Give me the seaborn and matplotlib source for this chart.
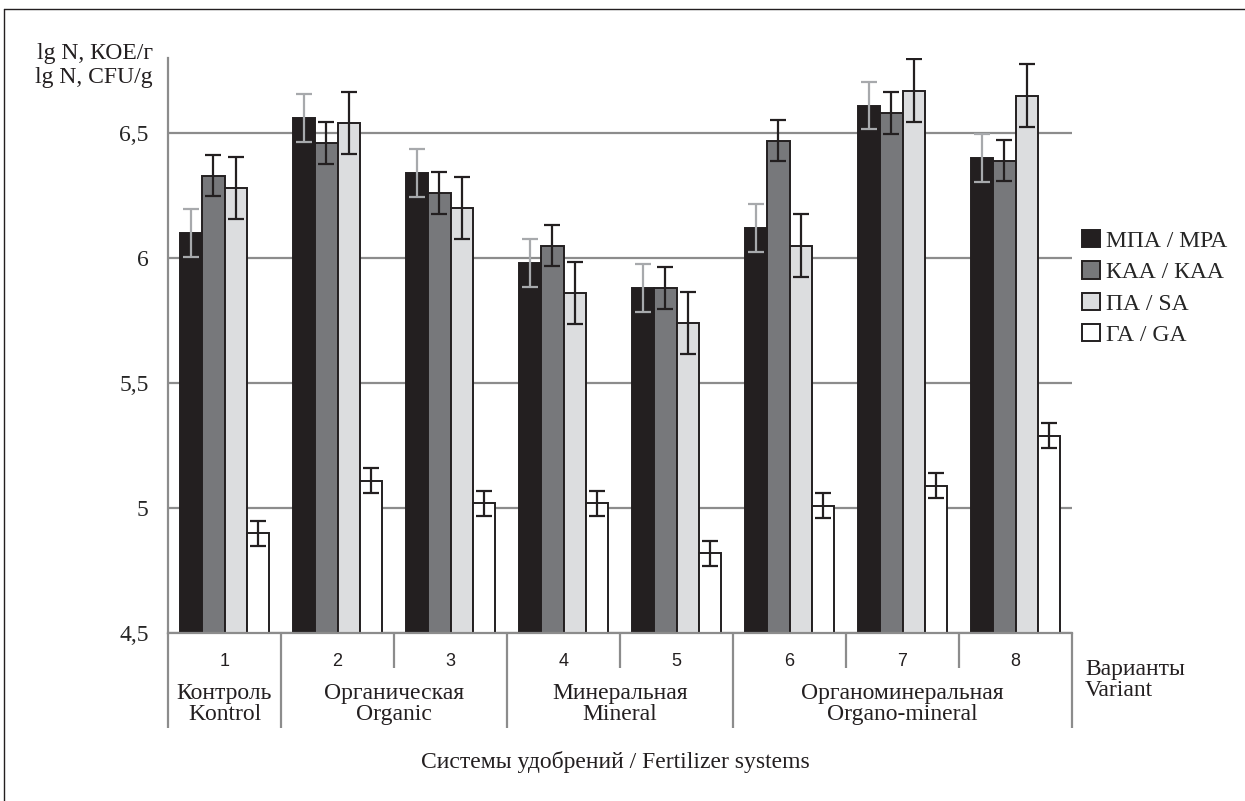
import numpy as np
import pandas as pd
import matplotlib
matplotlib.use("Agg")
import matplotlib.pyplot as plt
import matplotlib.transforms as mtransforms
from matplotlib.lines import Line2D
from matplotlib.container import BarContainer
import seaborn as sns

# ---------------- data ----------------
variants = ["1", "2", "3", "4", "5", "6", "7", "8"]
series = ["МПА / МРА", "КАА / КАА", "ПА / SA", "ГА / GA"]
mpa = [6.10, 6.56, 6.34, 5.98, 5.88, 6.12, 6.61, 6.40]
kaa = [6.33, 6.46, 6.26, 6.05, 5.88, 6.47, 6.58, 6.39]
pa = [6.28, 6.54, 6.20, 5.86, 5.74, 6.05, 6.67, 6.65]
ga = [4.90, 5.11, 5.02, 5.02, 4.82, 5.01, 5.09, 5.29]
err_mpa = [0.095] * 8
err_kaa = [0.083] * 8
err_pa = [0.125] * 8
err_ga = [0.05] * 8
systems = ["Контроль\nKontrol", "Органическая\nOrganic", "Минеральная\nMineral",
           "Органоминеральная\nOrgano-mineral"]
system_span = [(0, 0), (1, 2), (3, 4), (5, 7)]
yticks = [4.5, 5.0, 5.5, 6.0, 6.5]
ytick_labels = ["4,5", "5", "5,5", "6", "6,5"]

colors = ["#231f20", "#77787b", "#dcdddf", "#ffffff"]
err_colors = ["#a7a9ac", "#231f20", "#231f20", "#231f20"]
grid_c = "#8c8c8c"
SERIF = "Liberation Serif"
SANS = "Liberation Sans"
FS = 17

values = [mpa, kaa, pa, ga]
errors = [err_mpa, err_kaa, err_pa, err_ga]
df = pd.DataFrame({
    "variant": np.repeat([variants], 4, axis=0).ravel(),
    "series": np.repeat(series, len(variants)),
    "value": np.concatenate(values),
})

sns.set_style("white")
plt.rcParams["font.family"] = [SERIF, "DejaVu Serif"]

W, H = 1245, 801
fig = plt.figure(figsize=(W / 100, H / 100), dpi=100)
ax = fig.add_axes([168 / W, 1 - 633 / H, 904 / W, 575 / H])

sns.barplot(data=df, x="variant", y="value", hue="series", hue_order=series,
            order=variants, palette=colors, saturation=1, width=0.79,
            errorbar=None, edgecolor="#231f20", linewidth=1.4, ax=ax, legend=True)

bar_conts = [c for c in ax.containers if isinstance(c, BarContainer)]
for i, cont in enumerate(bar_conts):
    xs = [p.get_x() + p.get_width() / 2 for p in cont.patches]
    ax.errorbar(xs, values[i], yerr=errors[i], fmt="none", ecolor=err_colors[i],
                elinewidth=1.6, capsize=5.5, capthick=1.6, zorder=5)

ax.set_ylim(4.5, 6.8)
ax.set_xlim(-0.5, 7.5)
ax.set_yticks(yticks)
ax.set_yticklabels(ytick_labels, fontsize=FS, family=SERIF)
ax.yaxis.grid(True, color=grid_c, linewidth=1.6)
ax.set_axisbelow(True)
ax.tick_params(axis="y", length=6, width=1.4, color=grid_c, pad=8)
ax.tick_params(axis="x", length=0, labelbottom=False)
ax.set_xlabel("")
ax.set_ylabel("")
for s in ["top", "right"]:
    ax.spines[s].set_visible(False)
for s in ["left", "bottom"]:
    ax.spines[s].set_color(grid_c)
    ax.spines[s].set_linewidth(1.6)

# ---------------- category axis below ----------------
trans = mtransforms.blended_transform_factory(ax.transData, ax.transAxes)
axh = 575.0
sys_bounds = {-0.5} | {e + 0.5 for (_, e) in system_span}
for k in range(len(variants) + 1):
    b = k - 0.5
    yend = -(728 - 633) / axh if b in sys_bounds else -(668 - 633) / axh
    ax.plot([b, b], [0, yend], transform=trans, color=grid_c, lw=1.6,
            clip_on=False, solid_capstyle="butt")
for i, v in enumerate(variants):
    ax.text(i, -(662 - 633) / axh, v, transform=trans, ha="center", va="center",
            fontsize=13, family=SANS, color="#231f20")
for name, (s, e) in zip(systems, system_span):
    ax.text((s + e) / 2, -(704 - 633) / axh, name, transform=trans, ha="center",
            va="center", fontsize=FS, family=SERIF, color="#231f20", linespacing=1.0)
ax.text((1085 - 168) / 904, -(680 - 633) / axh, "Варианты\nVariant",
        transform=ax.transAxes, ha="left", va="center", fontsize=FS, family=SERIF,
        color="#231f20", linespacing=0.95)

fig.text(615 / W, 1 - 762 / H, "Системы удобрений / Fertilizer systems", ha="center",
         va="center", fontsize=FS, family=SERIF, color="#231f20")
fig.text(153 / W, 1 - 53 / H, "lg N, КОЕ/г", ha="right", va="center", fontsize=FS,
         family=SERIF, color="#231f20")
fig.text(153 / W, 1 - 77 / H, "lg N, CFU/g", ha="right", va="center", fontsize=FS,
         family=SERIF, color="#231f20")

# ---------------- legend ----------------
handles, labels = ax.get_legend_handles_labels()
if ax.get_legend() is not None:
    ax.get_legend().remove()
fig.legend(handles, labels, loc="upper left", bbox_to_anchor=(1082 / W, 1 - 230 / H),
           frameon=False, prop={"family": SERIF, "size": FS}, handlelength=0.75,
           handleheight=0.75, handletextpad=0.25, labelspacing=0.4, borderpad=0,
           borderaxespad=0)

# ---------------- outer frame (left and top edges) ----------------
fx0, fx1, fy0 = 4 / W, 1.0, 1 - 9 / H
for xs_, ys_ in [([fx0, fx0], [0, fy0]), ([fx0, fx1], [fy0, fy0])]:
    fig.add_artist(Line2D(xs_, ys_, transform=fig.transFigure, color="#231f20", lw=1.0))

fig.savefig("out.png", dpi=100)
